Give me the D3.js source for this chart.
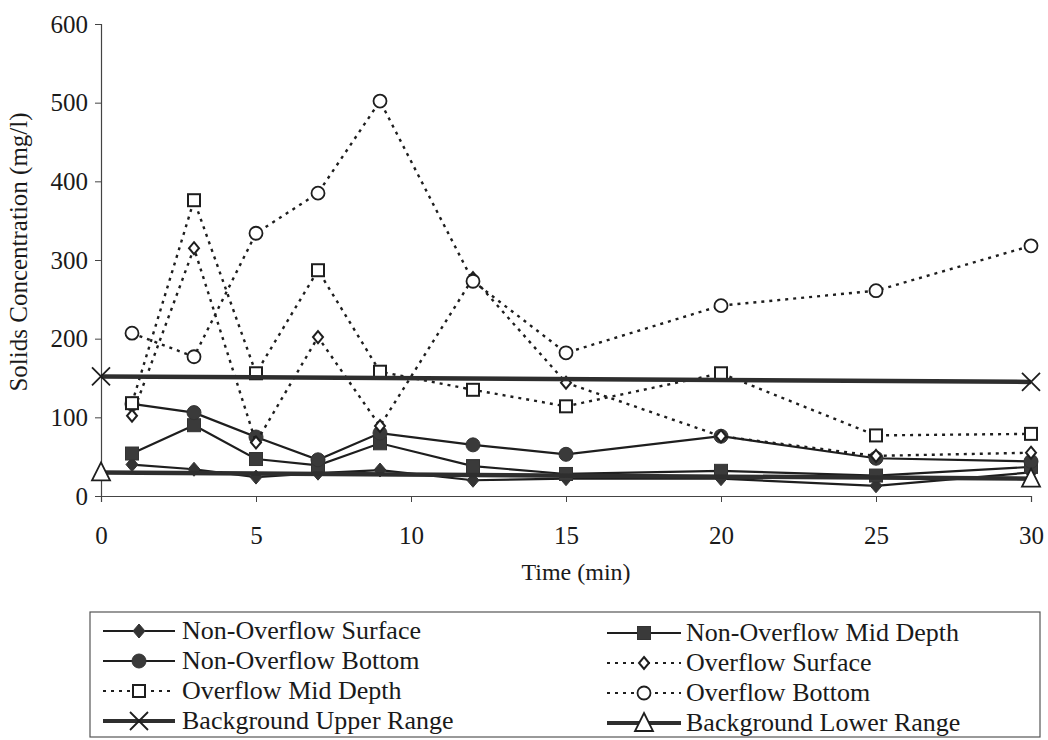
<!DOCTYPE html>
<html><head><meta charset="utf-8">
<script src="https://cdn.jsdelivr.net/npm/d3@7"></script>
<style>
html,body{margin:0;padding:0;background:#fff;}
svg{display:block;}
text{font-family:"Liberation Serif","Times New Roman",serif;fill:#1a1a1a;}
</style></head>
<body>
<svg id="chart" width="1048" height="740"></svg>
<script>
// ---- data ----
const times = [1, 3, 5, 7, 9, 12, 15, 20, 25, 30];
const nonOverflowSurface = [40, 34, 24, 29, 33, 20, 22, 22, 13, 30];
const nonOverflowMidDepth = [54, 90, 47, 39, 67, 38, 28, 32, 26, 37];
const nonOverflowBottom = [117, 106, 75, 46, 80, 65, 53, 76, 48, 44];
const overflowSurface = [102, 315, 68, 202, 89, 277, 144, 76, 51, 55];
const overflowMidDepth = [118, 376, 156, 287, 158, 135, 114, 156, 77, 79];
const overflowBottom = [207, 177, 334, 385, 502, 273, 182, 242, 261, 318];
const bgTimes = [0, 30];
const bgUpperRange = [152, 145];
const bgLowerRange = [30, 22];
const xTicks = [0, 5, 10, 15, 20, 25, 30];
const yTicks = [0, 100, 200, 300, 400, 500, 600];
const seriesNames = ["Non-Overflow Surface", "Non-Overflow Mid Depth", "Non-Overflow Bottom",
  "Overflow Surface", "Overflow Mid Depth", "Overflow Bottom",
  "Background Upper Range", "Background Lower Range"];

const ink = "#1e1e1e";
const svg = d3.select("#chart");
const x = d3.scaleLinear().domain([0, 30]).range([101, 1031]);
const y = d3.scaleLinear().domain([0, 600]).range([496, 24]);

// axes
const yAxis = d3.axisLeft(y).tickValues(yTicks).tickSize(6).tickPadding(7).tickFormat(d3.format("d"));
const gy = svg.append("g").attr("transform", `translate(${x(0)},0)`).call(yAxis);
gy.select(".domain").attr("stroke", "#444").attr("stroke-width", 1.2);
gy.selectAll(".tick line").attr("stroke", "#444");
gy.selectAll(".tick text").attr("font-size", 25).attr("font-family", "Liberation Serif").attr("fill", "#1a1a1a");

const xAxis = d3.axisBottom(x).tickValues(xTicks).tickSize(6).tickPadding(24).tickFormat(d3.format("d"));
const gx = svg.append("g").attr("transform", `translate(0,${y(0)})`).call(xAxis);
gx.select(".domain").attr("stroke", "#444").attr("stroke-width", 1.2);
gx.selectAll(".tick line").attr("stroke", "#444");
gx.selectAll(".tick text").attr("font-size", 25).attr("font-family", "Liberation Serif").attr("fill", "#1a1a1a");

svg.append("text").attr("x", 576).attr("y", 580).attr("text-anchor", "middle")
  .attr("font-size", 24).text("Time (min)");
svg.append("text").attr("transform", `translate(27,252) rotate(-90)`)
  .attr("text-anchor", "middle").attr("font-size", 25).text("Solids Concentration (mg/l)");

// marker drawing
function marker(g, type, cx, cy) {
  if (type === "diamondF") {
    g.append("path").attr("d", `M${cx},${cy-7}L${cx+6},${cy}L${cx},${cy+7}L${cx-6},${cy}Z`).attr("fill", "#333").attr("stroke", "#333");
  } else if (type === "squareF") {
    g.append("rect").attr("x", cx-6.5).attr("y", cy-6.5).attr("width", 13).attr("height", 13).attr("fill", "#3a3a3a").attr("stroke", "#333");
  } else if (type === "circleF") {
    g.append("circle").attr("cx", cx).attr("cy", cy).attr("r", 7).attr("fill", "#3a3a3a").attr("stroke", "#333");
  } else if (type === "diamondO") {
    g.append("path").attr("d", `M${cx},${cy-6}L${cx+5},${cy}L${cx},${cy+6}L${cx-5},${cy}Z`).attr("fill", "#fff").attr("stroke", ink).attr("stroke-width", 2);
  } else if (type === "squareO") {
    g.append("rect").attr("x", cx-6).attr("y", cy-6).attr("width", 12).attr("height", 12).attr("fill", "#fff").attr("stroke", ink).attr("stroke-width", 2);
  } else if (type === "circleO") {
    g.append("circle").attr("cx", cx).attr("cy", cy).attr("r", 6.5).attr("fill", "#fff").attr("stroke", ink).attr("stroke-width", 1.8);
  } else if (type === "cross") {
    const s = 9;
    g.append("path").attr("d", `M${cx-s},${cy-s}L${cx+s},${cy+s}M${cx-s},${cy+s}L${cx+s},${cy-s}`).attr("stroke", ink).attr("stroke-width", 1.8).attr("fill", "none");
  } else if (type === "triangleO") {
    g.append("path").attr("d", `M${cx},${cy-10}L${cx+9},${cy+8}L${cx-9},${cy+8}Z`).attr("fill", "#fff").attr("stroke", ink).attr("stroke-width", 1.8);
  }
}

const styles = [
  {vals: nonOverflowSurface, t: times, m: "diamondF", dash: null, w: 2.2},
  {vals: nonOverflowMidDepth, t: times, m: "squareF", dash: null, w: 2.2},
  {vals: nonOverflowBottom, t: times, m: "circleF", dash: null, w: 2.2},
  {vals: overflowSurface, t: times, m: "diamondO", dash: "3,5", w: 2.4},
  {vals: overflowMidDepth, t: times, m: "squareO", dash: "3,5", w: 2.4},
  {vals: overflowBottom, t: times, m: "circleO", dash: "3,5", w: 2.4},
  {vals: bgUpperRange, t: bgTimes, m: "cross", dash: null, w: 4.5},
  {vals: bgLowerRange, t: bgTimes, m: "triangleO", dash: null, w: 4.5}
];

const line = d3.line().x(d => x(d[0])).y(d => y(d[1]));
const plot = svg.append("g");
styles.forEach((s, i) => {
  const pts = s.t.map((tt, j) => [tt, s.vals[j]]);
  const g = plot.append("g").attr("class", "series").attr("data-name", seriesNames[i]);
  g.append("path").attr("d", line(pts)).attr("fill", "none").attr("stroke", i >= 6 ? "#2e2e2e" : ink)
    .attr("stroke-width", s.w).attr("stroke-dasharray", s.dash);
  pts.forEach(p => marker(g, s.m, x(p[0]), y(p[1])));
});

// legend
const lg = svg.append("g");
lg.append("rect").attr("x", 90).attr("y", 612).attr("width", 950).attr("height", 125)
  .attr("fill", "none").attr("stroke", "#555").attr("stroke-width", 1.2);
const rows = [631, 661, 691, 721];
seriesNames.forEach((name, k) => {
  const col = k % 2, row = Math.floor(k / 2);
  const x0 = col === 0 ? 103 : 607, x1 = col === 0 ? 175 : 681, mx = (x0 + x1) / 2;
  const cy = rows[row] + (col === 1 ? 2 : 0);
  const s = styles[k];
  lg.append("line").attr("x1", x0).attr("x2", x1).attr("y1", cy).attr("y2", cy)
    .attr("stroke", k >= 6 ? "#2e2e2e" : ink).attr("stroke-width", k >= 6 ? 4 : 2).attr("stroke-dasharray", s.dash);
  marker(lg, s.m, mx, cy);
  lg.append("text").attr("x", col === 0 ? 182 : 686).attr("y", cy + 8).attr("font-size", 26).text(name);
});
</script>
</body></html>
